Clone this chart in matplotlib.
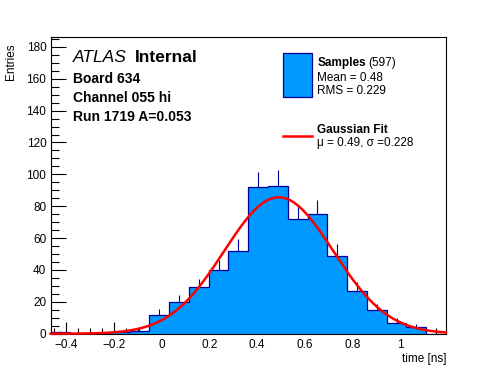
import numpy as np
import matplotlib
matplotlib.use('Agg')
import matplotlib.pyplot as plt
from matplotlib.ticker import MultipleLocator

plt.rcParams['font.family'] = ['Liberation Sans', 'DejaVu Sans']

# histogram: 20 bins over the axis range
x_lo = -0.465
x_hi = 1.19
counts = [1, 0, 0, 1, 2, 12, 20, 29, 40, 52, 92, 93, 72, 75, 49, 27, 15, 7, 4, 0]

# gaussian fit
fit_mu = 0.49
fit_sigma = 0.228
fit_amp = 85.6

xticks = [-0.4, -0.2, 0, 0.2, 0.4, 0.6, 0.8, 1.0]
xtick_labels = ['\u22120.4', '\u22120.2', '0', '0.2', '0.4', '0.6', '0.8', '1']
yticks = [0, 20, 40, 60, 80, 100, 120, 140, 160, 180]
y_max = 186

fill_col = '#0099ff'
edge_col = '#000099'

edges = np.linspace(x_lo, x_hi, len(counts) + 1)
centers = 0.5 * (edges[:-1] + edges[1:])
counts = np.array(counts, dtype=float)

fig = plt.figure(figsize=(4.96, 3.72), dpi=100)
ax = fig.add_axes([50.5 / 496, 1 - 333.7 / 372, 395.5 / 496, 296.4 / 372])

# error bars sit under the fill so only the top half shows
nz = counts > 0
ax.vlines(centers[nz], counts[nz] - np.sqrt(counts[nz]), counts[nz] + np.sqrt(counts[nz]),
          color=edge_col, lw=0.8, zorder=1)
ax.stairs(counts, edges, fill=True, color=fill_col, zorder=2)
ax.stairs(counts, edges, color=edge_col, lw=0.9, zorder=3)

xs = np.linspace(x_lo, x_hi, 400)
ax.plot(xs, fit_amp * np.exp(-0.5 * ((xs - fit_mu) / fit_sigma) ** 2),
        color='red', lw=1.8, zorder=4, clip_on=False)

ax.set_xlim(x_lo, x_hi)
ax.set_ylim(0, y_max)
ax.set_xticks(xticks)
ax.set_xticklabels(xtick_labels)
ax.set_yticks(yticks)
ax.xaxis.set_minor_locator(MultipleLocator(0.05))
ax.yaxis.set_minor_locator(MultipleLocator(5))
ax.tick_params(which='both', direction='in', top=False, right=False, labelsize=8.5,
               width=0.8, color='black')
ax.tick_params(axis='x', which='major', length=9, pad=4)
ax.tick_params(axis='x', which='minor', length=4.5)
ax.tick_params(axis='y', which='major', length=11, pad=3)
ax.tick_params(axis='y', which='minor', length=5.5)
for s in ax.spines.values():
    s.set_linewidth(0.8)

ax.set_xlabel('time [ns]', fontsize=8.5, loc='right', labelpad=1)
ax.set_ylabel('Entries', fontsize=8.5, loc='top', labelpad=4)
ax.yaxis.set_label_coords(-0.085, 0.98)


def ftext(px, py, s, **kw):
    fig.text(px / 496, 1 - py / 372, s, va='baseline', **kw)


ftext(73.3, 61.7, 'ATLAS', fontsize=12.5, style='italic')
ftext(134.5, 61.7, 'Internal', fontsize=12.5, weight='bold')
ftext(73.3, 82.7, 'Board 634', fontsize=10, weight='bold')
ftext(73.3, 101.5, 'Channel 055 hi', fontsize=10, weight='bold')
ftext(73.3, 120.7, 'Run 1719 A=0.053', fontsize=10, weight='bold')

# legend drawn by hand
leg_box = plt.Rectangle((283.3 / 496, 1 - 96.7 / 372), 28.4 / 496, 43.4 / 372,
                        transform=fig.transFigure, facecolor=fill_col,
                        edgecolor=edge_col, lw=0.9)
fig.patches.append(leg_box)
fig.add_artist(plt.Line2D([283.3 / 496, 311.7 / 496], [1 - 135.7 / 372] * 2,
                          transform=fig.transFigure, color='red', lw=1.8))
ftext(317.3, 66, 'Samples', fontsize=8.5, weight='bold')
ftext(368, 66, '(597)', fontsize=8.5)
ftext(317.3, 80.7, 'Mean = 0.48', fontsize=8.5)
ftext(317.3, 94, 'RMS = 0.229', fontsize=8.5)
ftext(317.3, 132.7, 'Gaussian Fit', fontsize=8.5, weight='bold')
ftext(317.3, 146, '\u03bc = 0.49, \u03c3 =0.228', fontsize=8.5)

fig.savefig('out.png', dpi=100)
